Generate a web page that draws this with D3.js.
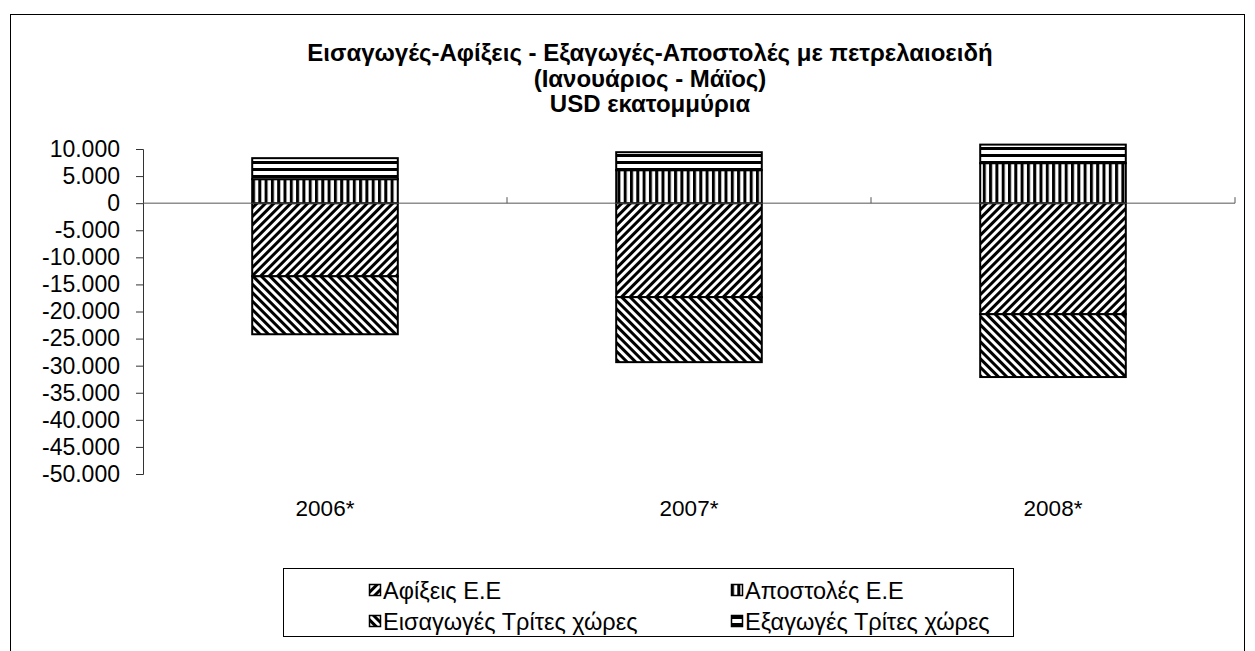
<!DOCTYPE html>
<html><head><meta charset="utf-8">
<script src="https://cdn.jsdelivr.net/npm/d3@7/dist/d3.min.js"></script>
<style>body{margin:0;background:#fff}svg{display:block}text{font-family:"Liberation Sans",Arial,sans-serif}</style>
</head><body><svg id="c" width="1255" height="651"></svg>
<script>
const titleLines = ["Εισαγωγές-Αφίξεις - Εξαγωγές-Αποστολές με πετρελαιοειδή", "(Ιανουάριος - Μάϊος)", "USD εκατομμύρια"];
const categories = ["2006*", "2007*", "2008*"];
const afixeisEE = [-13500, -17350, -20500];
const eisagogesTrites = [-10700, -12000, -11600];
const apostolesEE = [4430, 6090, 7390];
const exagogesTrites = [3880, 3320, 3420];
const yTicks = [10000, 5000, 0, -5000, -10000, -15000, -20000, -25000, -30000, -35000, -40000, -45000, -50000];
const seriesNames = ["Αφίξεις Ε.Ε", "Αποστολές  Ε.Ε", "Εισαγωγές Τρίτες χώρες", "Εξαγωγές Τρίτες χώρες"];

const svg = d3.select("#c");
const defs = svg.append("defs");
function stripe(id, period, w, rot) {
  const p = defs.append("pattern").attr("id", id).attr("patternUnits", "userSpaceOnUse")
    .attr("width", period).attr("height", period);
  if (rot !== null) p.attr("patternTransform", "rotate(" + rot + ")");
  p.append("rect").attr("width", period).attr("height", period).attr("fill", "#fff");
  p.append("rect").attr("x", 0).attr("y", 0).attr("width", w).attr("height", period).attr("fill", "#000");
  return "url(#" + id + ")";
}
function hstripe(id, period, w) {
  const p = defs.append("pattern").attr("id", id).attr("patternUnits", "userSpaceOnUse")
    .attr("width", period).attr("height", period);
  p.append("rect").attr("width", period).attr("height", period).attr("fill", "#fff");
  p.append("rect").attr("x", 0).attr("y", 0).attr("width", period).attr("height", w).attr("fill", "#000");
  return "url(#" + id + ")";
}
const fills = [
  stripe("pA", 6, 3, 45),
  stripe("pB", 6.3, 3, null),
  stripe("pC", 6, 3, -45),
  hstripe("pD", 7, 3)
];

// outer border
svg.append("rect").attr("x", 10.5).attr("y", 14.5).attr("width", 1234).attr("height", 700)
  .attr("fill", "none").attr("stroke", "#000").attr("stroke-width", 1);

// title
svg.append("g").selectAll("text").data(titleLines).join("text")
  .attr("x", 650).attr("y", (d, i) => 61 + i * 25.5)
  .attr("text-anchor", "middle").attr("font-weight", "bold").attr("font-size", 24)
  .text(d => d);

const x = d3.scaleBand().domain(categories).range([143, 1235]).paddingInner(0.6).paddingOuter(0.3);
const y = d3.scaleLinear().domain([-50000, 10000]).range([474, 149]);

const loc = d3.formatLocale({decimal: ",", thousands: ".", grouping: [3], currency: ["", ""], minus: "-"});
const fmt = loc.format(",d");

// y axis
const yAxis = svg.append("g").attr("transform", "translate(143,0)")
  .call(d3.axisLeft(y).tickValues(yTicks).tickFormat(fmt).tickSize(7).tickPadding(16));
yAxis.select(".domain").attr("stroke", "#333");
yAxis.selectAll(".tick line").attr("stroke", "#333");
yAxis.selectAll(".tick text").attr("font-size", 23).attr("fill", "#000")
  .attr("font-family", "'Liberation Sans',Arial,sans-serif");

// stacks
const segs = [];
categories.forEach((c, i) => {
  const a = afixeisEE[i], e = eisagogesTrites[i], p = apostolesEE[i], x2 = exagogesTrites[i];
  segs.push({c, y0: 0, y1: a, f: 0});
  segs.push({c, y0: a, y1: a + e, f: 2});
  segs.push({c, y0: 0, y1: p, f: 1});
  segs.push({c, y0: p, y1: p + x2, f: 3});
});
svg.append("g").selectAll("rect").data(segs).join("rect")
  .attr("x", d => x(d.c)).attr("width", x.bandwidth())
  .attr("y", d => Math.min(y(d.y0), y(d.y1)))
  .attr("height", d => Math.abs(y(d.y0) - y(d.y1)))
  .attr("fill", d => fills[d.f]).attr("stroke", "#000").attr("stroke-width", 2);

// x axis at zero
const xAxisG = svg.append("g").attr("transform", "translate(0," + y(0) + ")");
xAxisG.append("line").attr("x1", 143).attr("x2", 1235).attr("stroke", "#555").attr("stroke-width", 1);
const bounds = [1, 2, 3].map(k => x.range()[0] + k * x.step());
xAxisG.selectAll("line.t").data(bounds).join("line").attr("class", "t")
  .attr("x1", d => d).attr("x2", d => d).attr("y1", -6).attr("y2", 0).attr("stroke", "#555");
svg.append("g").selectAll("text").data(categories).join("text")
  .attr("x", d => x(d) + x.bandwidth() / 2).attr("y", 516)
  .attr("text-anchor", "middle").attr("font-size", 22.5).text(d => d);

// legend
const lg = svg.append("g");
lg.append("rect").attr("x", 283.5).attr("y", 568.5).attr("width", 730).attr("height", 68)
  .attr("fill", "#fff").attr("stroke", "#000").attr("stroke-width", 1);
const legendOrder = [0, 1, 2, 3];
const lx = [369, 731], ly = [599, 630];
const items = lg.selectAll("g").data(legendOrder).join("g")
  .attr("transform", (d, i) => "translate(" + lx[i % 2] + "," + ly[Math.floor(i / 2)] + ")");
items.append("rect").attr("x", 0.5).attr("y", -14.5).attr("width", 11).attr("height", 11)
  .attr("fill", d => fills[d]).attr("stroke", "#000").attr("stroke-width", 1.5);
items.append("text").attr("x", 14).attr("y", 0).attr("font-size", 23.5).text(d => seriesNames[d]);
</script></body></html>
